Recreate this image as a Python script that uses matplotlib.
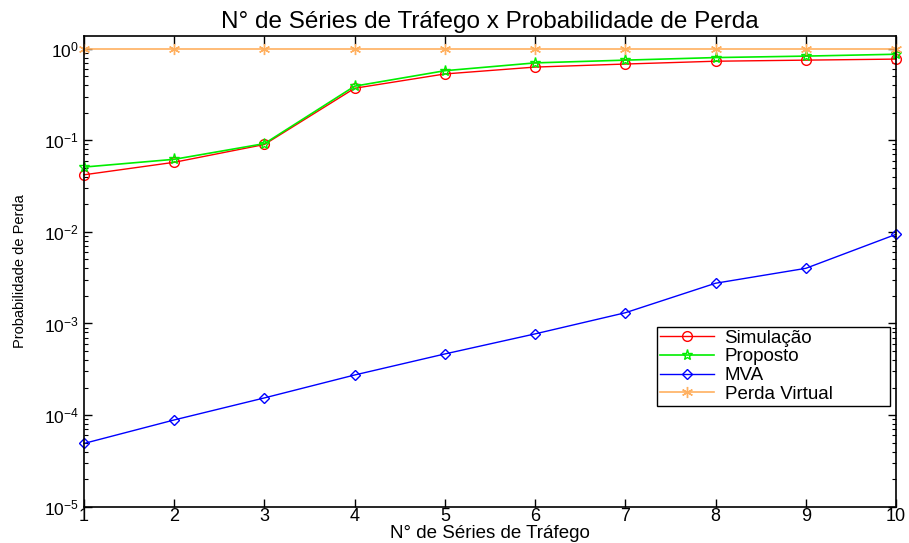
import matplotlib.pyplot as plt
import numpy as np

plt.rcParams['font.family'] = ['Liberation Sans', 'DejaVu Sans']
plt.rcParams['mathtext.fontset'] = 'custom'
plt.rcParams['mathtext.rm'] = 'Liberation Sans'
plt.rcParams['mathtext.it'] = 'Liberation Sans'

series = [1, 2, 3, 4, 5, 6, 7, 8, 9, 10]
simulacao = [0.042, 0.0575, 0.090, 0.37, 0.53, 0.63, 0.68, 0.73, 0.75, 0.77]
proposto = [0.051, 0.062, 0.092, 0.39, 0.575, 0.70, 0.75, 0.80, 0.83, 0.87]
mva = [4.9e-5, 8.85e-5, 1.54e-4, 2.74e-4, 4.65e-4, 7.7e-4, 1.31e-3, 2.75e-3, 4.0e-3, 9.4e-3]
perda_virtual = [1, 1, 1, 1, 1, 1, 1, 1, 1, 1]

fig = plt.figure(figsize=(9.09, 5.43), dpi=100)
ax = fig.add_axes([0.0924, 0.0669, 0.8933, 0.8668])

ax.semilogy(series, simulacao, '-o', color='red', mfc='none', ms=7, lw=1,
            label='Simulação', clip_on=False)
ax.semilogy(series, proposto, '-*', color='#00ee00', mfc='none', ms=8, lw=1.2,
            label='Proposto', clip_on=False)
ax.semilogy(series, mva, '-D', color='blue', mfc='none', ms=5, lw=1,
            label='MVA', clip_on=False)
ax.semilogy(series, perda_virtual, '-', marker=(6, 2, 0), color='#ffb060', ms=8,
            mew=1, lw=1.2, label='Perda Virtual', clip_on=False)

ax.set_xlim(1, 10)
ax.set_ylim(1e-5, 1.376)
ax.set_xticks(series)
ax.tick_params(which='both', direction='in', top=True, right=True, labelsize=12.5)
ax.tick_params(which='major', length=6, width=1)
ax.tick_params(which='minor', length=3, width=0.8)
ax.tick_params(axis='x', pad=1, labelsize=13)
for s in ax.spines.values():
    s.set_linewidth(1.2)

ax.set_title('N° de Séries de Tráfego x Probabilidade de Perda', fontsize=17.5, pad=6)
ax.set_xlabel('N° de Séries de Tráfego', fontsize=13.5, labelpad=0)
ax.set_ylabel('Probabilidade de Perda', fontsize=10.5, labelpad=12)

# legend box stretched to a fixed width, text left aligned
leg = ax.legend(loc='upper left', bbox_to_anchor=(0.7057, 0.382, 0.287, 0),
                mode='expand', fontsize=13.5, fancybox=False, edgecolor='black',
                framealpha=1, handlelength=2.9, handletextpad=0.55, borderpad=0.15,
                labelspacing=0.08, borderaxespad=0)
leg.get_frame().set_linewidth(1)

plt.savefig('out.png', dpi=100)
